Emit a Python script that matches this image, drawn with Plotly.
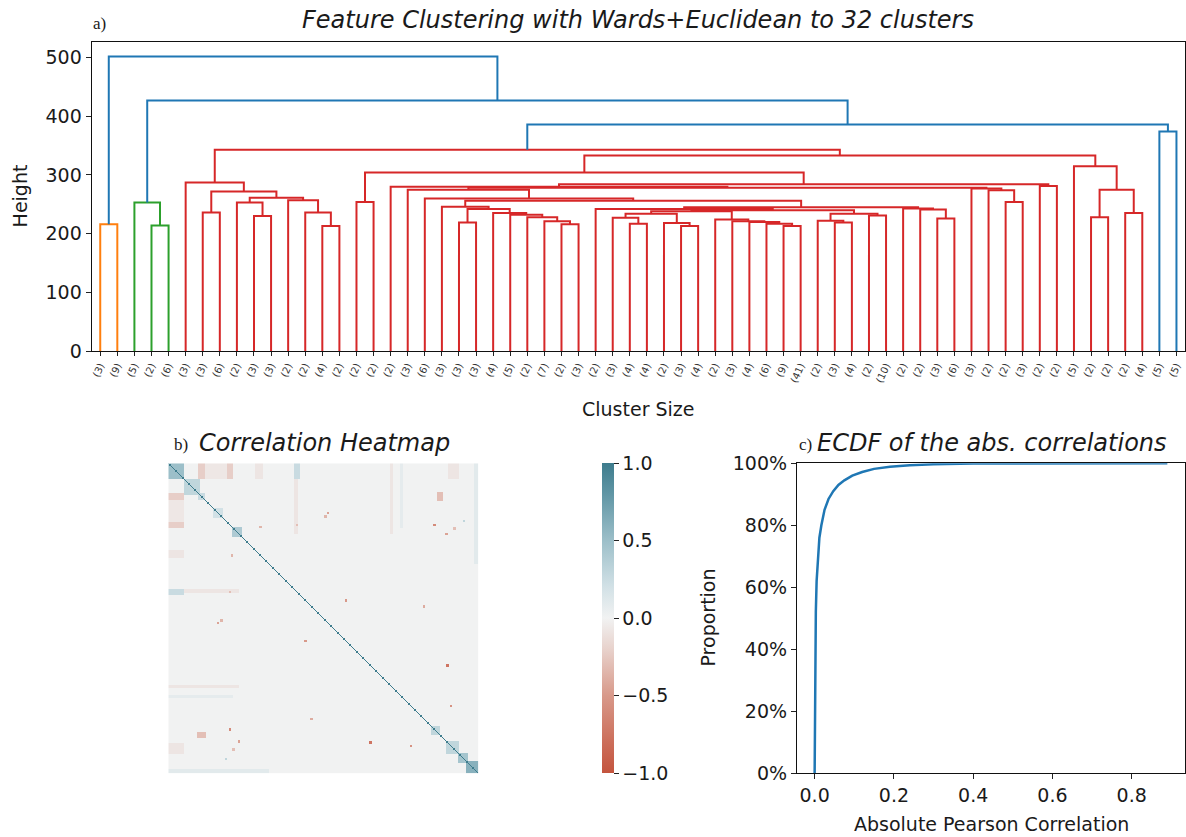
import numpy as np
import plotly.graph_objects as go

W, H = 1186, 837

# ---------------- data ----------------
# dendrogram leaves (cluster sizes shown under each truncated leaf)
LEAF_LABELS = [3, 9, 5, 2, 6, 3, 3, 6, 2, 3, 3, 2, 2, 4, 2, 2, 2, 2, 3, 6, 3,
               3, 3, 4, 5, 2, 7, 2, 3, 2, 3, 4, 4, 2, 3, 4, 2, 3, 4, 6, 9, 41, 2,
               3, 4, 2, 10,
               2, 2, 3, 6, 3, 2, 2, 3, 2, 2, 5, 2, 2, 2, 4, 5, 5]

# linkage (children: leaf index < 64, merged node = 64 + row) and merge heights
MERGE_LEFT = [0, 3, 2, 6, 9, 8, 13, 12, 11, 69, 67, 5, 15, 27, 26, 25, 24, 23, 21, 82,
              20, 31, 30, 34, 33, 86, 40, 39, 38, 37, 36, 89, 43, 42, 45, 97, 95, 29,
              49, 48, 47, 101, 84, 19, 18, 53, 52, 51, 108, 17, 55, 113, 76, 58, 60,
              117, 57, 116, 75, 62, 122, 66, 64]
MERGE_RIGHT = [1, 4, 65, 7, 10, 68, 14, 70, 71, 72, 73, 74, 16, 28, 77, 78, 79, 80, 22, 81,
               83, 32, 85, 35, 87, 88, 41, 90, 91, 92, 93, 94, 44, 96, 46, 98, 99, 100,
               50, 102, 103, 104, 105, 106, 107, 54, 109, 110, 111, 112, 56, 114, 115, 59, 61,
               118, 119, 120, 121, 63, 123, 124, 125]
MERGE_HEIGHT = [216, 214, 253, 236, 230, 253, 213, 236, 257, 261, 272, 287, 254, 216, 221,
                228, 232, 235, 219, 242, 246, 217, 227, 213, 218, 234, 213, 217, 220, 221,
                224, 238, 219, 222, 231, 234, 240, 242, 226, 241, 243, 245, 256, 260, 275,
                254, 274, 277, 278, 280, 281, 284, 304, 228, 235, 275, 315, 333, 343, 374,
                386, 427, 502]

Y_TICKS = [0, 100, 200, 300, 400, 500]

# correlation heatmap: blocks (row0, row1, col0, col1, correlation), mirrored
HEAT_BLOCKS = [
    (0, 13, 27, 50, -0.07), (0, 13, 73, 80, -0.08), (0, 13, 236, 246, -0.08),
    (187, 190, 0, 60, -0.08), (196, 198, 0, 55, 0.08), (106, 110, 13, 60, -0.08),
    (258, 262, 0, 85, 0.10), (0, 13, 50, 55, -0.22), (25, 31, 0, 13, -0.22),
    (0, 13, 106, 111, 0.25), (24, 32, 227, 232, -0.3),
    (0, 13, 0, 13, 0.50), (13, 27, 13, 27, 0.30), (25, 31, 25, 31, 0.25),
    (38, 46, 38, 46, 0.20), (54, 62, 54, 62, 0.40), (222, 230, 222, 230, 0.30),
    (235, 246, 235, 246, 0.30), (245, 253, 245, 253, 0.45), (252, 262, 252, 262, 0.60),
]
HEAT_SPOTS = [  # (row, col, correlation)
    (51, 224, -0.6), (115, 149, -0.5), (235, 170, -0.75), (238, 204, -0.55),
    (120, 215, -0.4), (41, 134, -0.45), (51, 108, -0.3), (77, 53, -0.35),
    (59, 234, -0.45), (54, 241, -0.3), (48, 249, 0.3), (132, 44, -0.35),
]

# ECDF of absolute correlations
ECDF_X = [0, 0.0005, 0.0015, 0.003, 0.005, 0.008, 0.012, 0.017, 0.025, 0.035, 0.047,
          0.06, 0.075, 0.095, 0.12, 0.15, 0.19, 0.24, 0.30, 0.40, 0.55, 0.70, 0.89]
ECDF_P = [0, 0.18, 0.38, 0.52, 0.62, 0.70, 0.76, 0.80, 0.85, 0.885, 0.91,
          0.93, 0.945, 0.96, 0.972, 0.982, 0.989, 0.994, 0.997, 0.999, 0.9997, 0.9999, 1.0]

# ---------------- dendrogram geometry ----------------
n = len(LEAF_LABELS)
nm = len(MERGE_HEIGHT)
xs_node = [5 + 10 * i for i in range(n)] + [0.0] * nm
hs_node = [0.0] * n + [float(h) for h in MERGE_HEIGHT]
parent = [None] * (n + nm)
for j in range(nm):
    a, b = MERGE_LEFT[j], MERGE_RIGHT[j]
    xs_node[n + j] = (xs_node[a] + xs_node[b]) / 2
    parent[a] = parent[b] = n + j

thr = 0.7 * max(MERGE_HEIGHT)
roots = [k for k in range(n, n + nm)
         if hs_node[k] < thr and (parent[k] is None or hs_node[parent[k]] >= thr)]
roots.sort(key=lambda k: xs_node[k])
palette = ['#ff7f0e', '#2ca02c', '#d62728', '#9467bd', '#8c564b', '#e377c2']
root_color = {r: palette[i % len(palette)] for i, r in enumerate(roots)}


def link_color(k):
    if hs_node[k] >= thr:
        return '#1f77b4'
    r = k
    while parent[r] is not None and hs_node[parent[r]] < thr:
        r = parent[r]
    return root_color[r]


segs = {}
for j in range(nm):
    k = n + j
    a, b = MERGE_LEFT[j], MERGE_RIGHT[j]
    c = link_color(k)
    xs, ys = segs.setdefault(c, ([], []))
    xs += [xs_node[a], xs_node[a], xs_node[b], xs_node[b], None]
    ys += [hs_node[a], hs_node[k], hs_node[k], hs_node[b], None]

fig = go.Figure()
for c, (xs, ys) in segs.items():
    fig.add_trace(go.Scatter(x=xs, y=ys, mode='lines', line=dict(color=c, width=2),
                             xaxis='x', yaxis='y', hoverinfo='skip'))

# ---------------- heatmap ----------------
N = sum(LEAF_LABELS)
M = np.zeros((N, N))
for r0, r1, c0, c1, v in HEAT_BLOCKS:
    M[r0:r1, c0:c1] = v
    M[c0:c1, r0:r1] = v
for r, c, v in HEAT_SPOTS:
    M[r:r + 2, c:c + 2] = v
    M[c:c + 2, r:r + 2] = v
np.fill_diagonal(M, 1.0)

cscale = [[0.0, 'rgb(196,84,62)'], [0.1, 'rgb(204,110,90)'], [0.25, 'rgb(216,153,138)'],
          [0.4, 'rgb(232,210,204)'], [0.5, 'rgb(241,242,242)'], [0.6, 'rgb(210,225,230)'],
          [0.75, 'rgb(156,191,201)'], [0.9, 'rgb(96,150,165)'], [1.0, 'rgb(62,124,141)']]

fig.add_trace(go.Heatmap(
    z=M, zmin=-1, zmax=1, colorscale=cscale, xaxis='x2', yaxis='y2', hoverinfo='skip',
    colorbar=dict(x=602 / W, xanchor='left', y=1 - 618.3 / H, yanchor='middle',
                  len=310, lenmode='pixels', thickness=12, thicknessmode='pixels',
                  outlinewidth=0, xpad=0, ypad=0, ticks='outside', ticklen=5,
                  tickcolor='#222', tickwidth=1.2,
                  tickvals=[-1, -0.5, 0, 0.5, 1],
                  ticktext=['\u22121.0', '\u22120.5', '0.0', '0.5', '1.0'],
                  tickfont=dict(family='DejaVu Sans', size=19, color='#1a1a1a'))))

# ---------------- ECDF ----------------
fig.add_trace(go.Scatter(x=ECDF_X, y=ECDF_P, mode='lines', line=dict(color='#1f77b4', width=2.5),
                         xaxis='x3', yaxis='y3', hoverinfo='skip'))

tickfont = dict(family='DejaVu Sans', size=19, color='#1a1a1a')
common = dict(showgrid=False, zeroline=False, showline=True, mirror=True, linecolor='#111',
              linewidth=1.3, ticks='outside', ticklen=5, tickwidth=1.2, tickcolor='#222',
              tickfont=tickfont)

fig.update_layout(
    width=W, height=H, margin=dict(l=0, r=0, t=0, b=0, pad=0, autoexpand=False),
    paper_bgcolor='white', plot_bgcolor='white', showlegend=False,
    font=dict(family='DejaVu Sans', color='#1a1a1a'),
    xaxis=dict(domain=[91.7 / W, 1185 / W], anchor='y', range=[0, 10 * n],
               tickmode='array', tickvals=[5 + 10 * i for i in range(n)],
               ticktext=['(%d)' % v for v in LEAF_LABELS], tickangle=-65,
               **{**common, 'tickfont': dict(family='DejaVu Sans', size=10, color='#333'),
                  'ticklen': 4}),
    yaxis=dict(domain=[1 - 351 / H, 1 - 41.7 / H], anchor='x', range=[0, 1.05 * max(MERGE_HEIGHT)],
               tickmode='array', tickvals=Y_TICKS, ticktext=[str(v) for v in Y_TICKS], **common),
    xaxis2=dict(domain=[168.3 / W, 478.3 / W], anchor='y2', range=[-0.5, N - 0.5], visible=False),
    yaxis2=dict(domain=[1 - 773.3 / H, 1 - 463.3 / H], anchor='x2', range=[N - 0.5, -0.5],
                visible=False),
    xaxis3=dict(domain=[797 / W, 1185 / W], anchor='y3', range=[-0.0445, 0.9345],
                tickmode='array', tickvals=[0, 0.2, 0.4, 0.6, 0.8],
                ticktext=['0.0', '0.2', '0.4', '0.6', '0.8'], **common),
    yaxis3=dict(domain=[1 - 773.3 / H, 1 - 463.3 / H], anchor='x3', range=[0, 1],
                tickmode='array', tickvals=[0, 0.2, 0.4, 0.6, 0.8, 1.0],
                ticktext=['0%', '20%', '40%', '60%', '80%', '100%'], **common),
)


def ann(text, x, y, size=19, xanchor='center', angle=0, family='DejaVu Sans', style='normal'):
    fig.add_annotation(text=text, x=x / W, y=1 - y / H, xref='paper', yref='paper',
                       showarrow=False, xanchor=xanchor, yanchor='middle', textangle=angle,
                       font=dict(family=family, size=size, style=style, color='#1a1a1a'))


ann('Feature Clustering with Wards+Euclidean to 32 clusters', 638.4, 20.5, size=24, style='italic')
ann('a)', 91, 23, size=17, xanchor='left', family='Liberation Serif')
ann('Height', 20, 196.4, angle=-90)
ann('Cluster Size', 637.5, 409)
ann('Correlation Heatmap', 324, 443, size=24, style='italic')
ann('b)', 172, 444, size=17, xanchor='left', family='Liberation Serif')
ann('ECDF of the abs. correlations', 991.5, 443, size=24, style='italic')
ann('c)', 797, 444, size=17, xanchor='left', family='Liberation Serif')
ann('Proportion', 707.5, 618, angle=-90)
ann('Absolute Pearson Correlation', 991.5, 824)

fig.write_html('out.html')
